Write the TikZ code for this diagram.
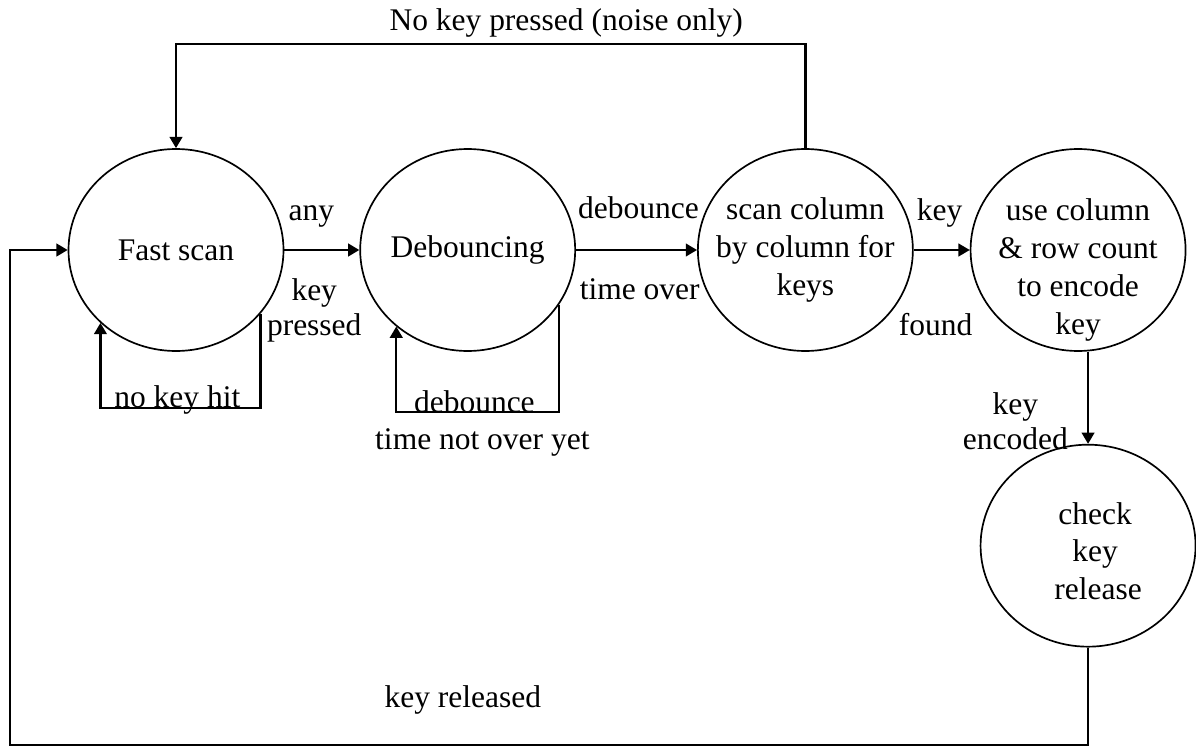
\documentclass[tikz,border=0pt]{standalone}
\usepackage{fontspec}
\setmainfont{Liberation Serif}
\usetikzlibrary{positioning,shapes.geometric,arrows.meta,calc}
\tikzstyle{statebox}=[ellipse, draw, line width=1.2pt, minimum width=5.375cm, minimum height=5.05cm,
inner sep=-0.4cm, align=center, font=\fontsize{22.4}{27}\selectfont]
\tikzstyle{arr}=[-{Triangle[length=8pt,width=9pt]}, line width=1.6pt]
\tikzstyle{lbl}=[inner sep=0pt, align=center, font=\fontsize{22.4}{25}\selectfont]

\begin{document}
\begin{tikzpicture}[node distance=0mm]
\useasboundingbox (0,0) rectangle (29.9,-18.65);

    \node (fast) [statebox] at (4.4,-6.25) {Fast scan};
    \node (deb) [statebox, right=1.875cm of fast] {Debouncing};
    \node (scan) [statebox, right=3.025cm of deb] {scan column\\by column for\\keys};
    \node (enc) [statebox, right=1.4cm of scan] {\raisebox{-0.68cm}[0pt][0pt]{\parbox{4.2cm}{\centering use column\\\& row count\\to encode\\key}}};
    \node (chk) [statebox, below=2.3cm of enc, xshift=0.25cm] {\raisebox{-0.32cm}[0pt][0pt]{\parbox{3.6cm}{\centering\hspace*{0.35cm}check\\\hspace*{0.35cm}key\\\hspace*{0.5cm}release}}};

%forward transitions
\draw[arr] (fast.east) -- node (anyl) [lbl, anchor=base, xshift=-0.26cm, yshift=0.75cm] {any}
   node (kpl) [lbl, anchor=north, xshift=-0.19cm, yshift=-0.68cm] {key\\pressed} (deb.west);
\draw[arr] (deb.east) -- node (dtl) [lbl, anchor=base, xshift=0.05cm, yshift=0.78cm] {debounce}
   node (tol) [lbl, anchor=north, xshift=0.08cm, yshift=-0.68cm] {time over} (scan.west);
\draw[arr] (scan.east) -- node (kfl) [lbl, anchor=base, xshift=-0.05cm, yshift=0.75cm] {key}
   node (fdl) [lbl, anchor=north, xshift=-0.15cm, yshift=-1.55cm] {found} (enc.west);
\draw[arr] (chk.north |- enc.south) -- node (kel) [lbl, pos=0, anchor=north east, xshift=-0.48cm, yshift=-0.98cm] {key\\encoded} (chk.north);

%self loops
\draw[arr] (fast.-37) -- ++(0,-2.35) -| node (nkh) [lbl, pos=0.26, anchor=base] {no key hit} (fast.-136);
\draw[arr] (deb.-31) -- ++(0,-2.68) -| node (dbl) [lbl, pos=0.26, anchor=base] {debounce} (deb.-133);
   \node (tnol) [lbl, anchor=base] at ($(dbl.base)+(0.2,-0.93)$) {time not over yet};

%back to fast scan
\draw[arr] (scan.north) -- ++(0,2.6) -| node (nkp) [lbl, pos=0.19, anchor=base, yshift=0.33cm] {No key pressed (noise only)} (fast.north);
\draw[arr] (chk.south) -- ++(0,-2.43) -- node (krl) [lbl, pos=0.58, anchor=base, yshift=0.93cm] {key released} ++(-26.95,0) |- (fast.west);

\end{tikzpicture}
\end{document}
